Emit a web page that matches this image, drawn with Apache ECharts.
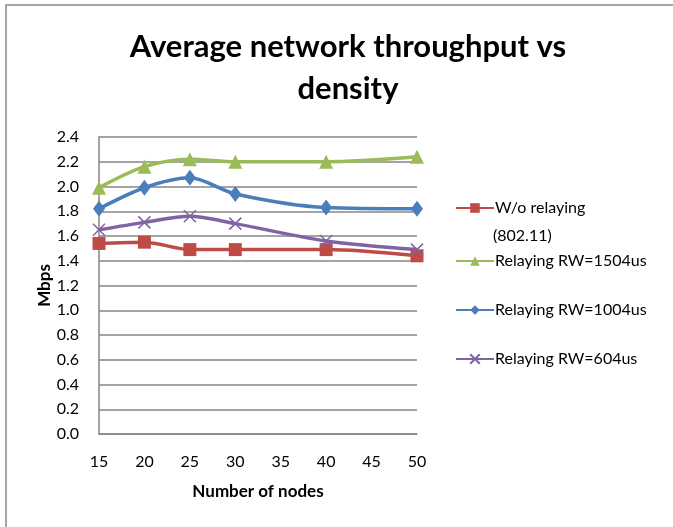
<!DOCTYPE html>
<html>
<head>
<meta charset="utf-8">
<script src="https://cdn.jsdelivr.net/npm/echarts@6/dist/echarts.min.js"></script>
<style>
html,body{margin:0;padding:0;background:#fff;}
#chart{width:673px;height:527px;}
</style>
</head>
<body>
<div id="chart"></div>
<script>
const categories = ['15','20','25','30','35','40','45','50'];
const seriesNames = ['W/o relaying (802.11)','Relaying RW=1504us','Relaying RW=1004us','Relaying RW=604us'];
const woRelaying = [1.54, 1.55, 1.49, 1.49, null, 1.49, null, 1.44];
const rw1504 = [1.99, 2.16, 2.22, 2.20, null, 2.20, null, 2.24];
const rw1004 = [1.82, 1.99, 2.07, 1.94, null, 1.83, null, 1.82];
const rw604 = [1.65, 1.71, 1.76, 1.70, null, 1.56, null, 1.49];
const yTicks = ['0.0','0.2','0.4','0.6','0.8','1.0','1.2','1.4','1.6','1.8','2.0','2.2','2.4'];

const colors = ['#BE4B48','#9BBB59','#4A7EBB','#8064A2'];
const font = 'Lato';
const chart = echarts.init(document.getElementById('chart'), null, {renderer:'canvas'});

function legendAt(name, top, extra) {
  return Object.assign({
    data: [name],
    left: 455, top: top,
    orient: 'vertical',
    padding: 0,
    itemWidth: 38, itemHeight: 12, itemGap: 0,
    textStyle: {fontFamily: font, fontSize: 16, color: '#000', padding: [0,0,0,-4]},
    selectedMode: false
  }, extra || {});
}

const option = {
  animation: false,
  backgroundColor: '#fff',
  title: {
    text: 'Average network throughput vs\ndensity',
    left: 343, top: 21, textAlign: 'center',
    textStyle: {fontFamily: font, fontWeight: 'bold', fontSize: 31, lineHeight: 42, color: '#000'}
  },
  graphic: [{
    type: 'rect', shape: {x: 6, y: 5, width: 800, height: 700},
    style: {fill: 'none', stroke: '#A6A6A6', lineWidth: 2}, silent: true
  }, {
    type: 'text', left: 493, top: 228,
    style: {text: '(802.11)', fontFamily: font, fontSize: 16, fill: '#000'}, silent: true
  }],
  legend: [
    legendAt(seriesNames[0], 200, {formatter: function(n){return 'W/o relaying';}}),
    legendAt(seriesNames[1], 253),
    legendAt(seriesNames[2], 302),
    legendAt(seriesNames[3], 351)
  ],
  grid: {left: 99, right: 256, top: 137, bottom: 93},
  xAxis: {
    type: 'category', data: categories, boundaryGap: false,
    name: 'Number of nodes', nameLocation: 'middle', nameGap: 49,
    nameTextStyle: {fontFamily: font, fontWeight: 'bold', fontSize: 17, color: '#000'},
    axisLine: {lineStyle: {color: '#868686', width: 1.5}},
    axisTick: {show: false},
    axisLabel: {fontFamily: font, fontSize: 16, color: '#000', margin: 20},
    splitLine: {show: false}
  },
  yAxis: {
    type: 'value', min: 0, max: 2.4, interval: 0.2,
    name: 'Mbps', nameLocation: 'middle', nameGap: 46, nameRotate: 90,
    nameTextStyle: {fontFamily: font, fontWeight: 'bold', fontSize: 17, color: '#000'},
    axisLine: {show: true, lineStyle: {color: '#868686', width: 1.5}},
    axisTick: {show: false},
    axisLabel: {fontFamily: font, fontSize: 16, color: '#000', margin: 20,
      formatter: function(v){ return yTicks[Math.round(v/0.2)]; }},
    splitLine: {lineStyle: {color: '#868686', width: 1.5}}
  },
  series: [
    {name: seriesNames[0], type: 'line', data: woRelaying, connectNulls: true, smooth: 0.3,
     symbol: 'rect', symbolSize: 13, color: colors[0],
     lineStyle: {width: 3.5, color: colors[0]}, itemStyle: {color: colors[0]}},
    {name: seriesNames[1], type: 'line', data: rw1504, connectNulls: true, smooth: 0.3,
     symbol: 'triangle', symbolSize: 14, color: colors[1],
     lineStyle: {width: 3.5, color: colors[1]}, itemStyle: {color: colors[1]}},
    {name: seriesNames[2], type: 'line', data: rw1004, connectNulls: true, smooth: 0.3,
     symbol: 'diamond', symbolSize: [12, 16], color: colors[2],
     lineStyle: {width: 3.5, color: colors[2]}, itemStyle: {color: colors[2]}},
    {name: seriesNames[3], type: 'line', data: rw604, connectNulls: true, smooth: 0.3,
     symbol: 'path://M0,0L10,10M10,0L0,10', symbolSize: 12, color: colors[3],
     lineStyle: {width: 3.5, color: colors[3]}, itemStyle: {color: colors[3], borderColor: colors[3], borderWidth: 1.5}}
  ]
};
chart.setOption(option);
</script>
</body>
</html>
